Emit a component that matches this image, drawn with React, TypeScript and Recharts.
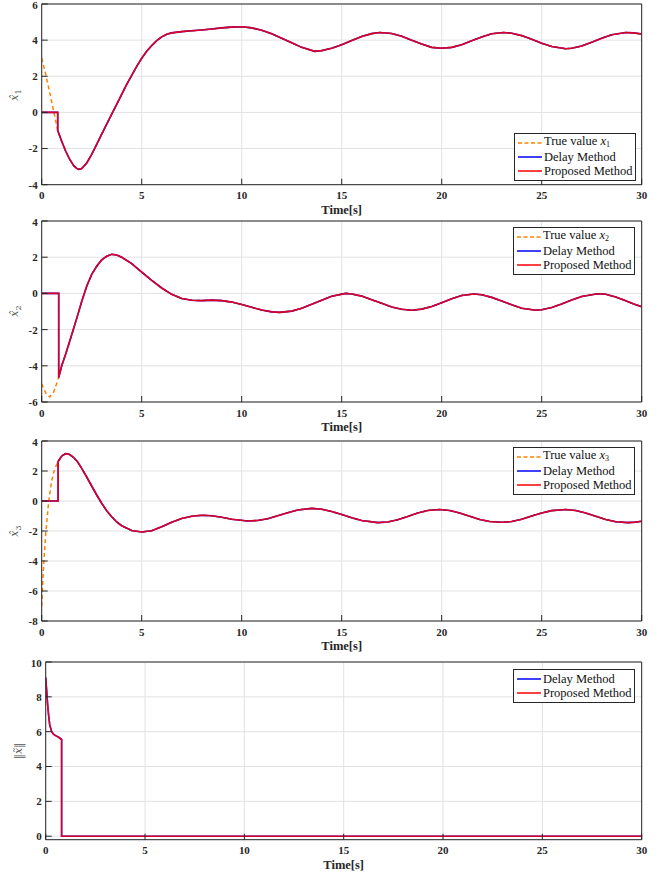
import React from 'react';
import { LineChart, Line, XAxis, YAxis, CartesianGrid, Legend } from 'recharts';

// ---------- tick labels ----------
const TIME_TICKS = [0, 5, 10, 15, 20, 25, 30];
const Y1_TICKS = [-4, -2, 0, 2, 4, 6];
const Y2_TICKS = [-6, -4, -2, 0, 2, 4];
const Y3_TICKS = [-8, -6, -4, -2, 0, 2, 4];
const Y4_TICKS = [0, 2, 4, 6, 8, 10];

// ---------- panel 1 : x1 ----------
const T1 = [0, 0.2, 0.4, 0.6, 0.8, 0.8, 1.0, 1.2, 1.4, 1.6, 1.75, 1.85, 2.0, 2.25, 2.5, 2.75, 3.0, 3.25, 3.5, 3.75, 4.0, 4.25, 4.5, 4.75, 5.0, 5.25, 5.5, 5.75, 6.0, 6.25, 6.5, 7.0, 7.5, 8.0, 8.5, 9.0, 9.5, 10.0, 10.5, 11.0, 11.5, 12.0, 12.5, 13.0, 13.65, 14.0, 14.5, 15.0, 15.5, 16.0, 16.5, 16.9, 17.5, 18.0, 18.5, 19.0, 19.5, 20.0, 20.5, 21.0, 21.5, 22.0, 22.5, 23.1, 23.5, 24.0, 24.5, 25.0, 25.5, 26.2, 26.5, 27.0, 27.5, 28.0, 28.5, 29.2, 29.6, 30.0];
const EST1 = [0, 0, 0, 0, 0, -1.0, -1.6, -2.15, -2.6, -2.95, -3.1, -3.15, -3.1, -2.8, -2.32, -1.77, -1.2, -0.65, -0.1, 0.45, 1.0, 1.55, 2.05, 2.55, 3.0, 3.38, 3.7, 3.97, 4.18, 4.32, 4.4, 4.47, 4.52, 4.56, 4.62, 4.68, 4.72, 4.74, 4.68, 4.55, 4.35, 4.1, 3.85, 3.6, 3.38, 3.42, 3.55, 3.75, 3.98, 4.2, 4.36, 4.42, 4.37, 4.22, 4.0, 3.78, 3.6, 3.55, 3.6, 3.75, 3.97, 4.18, 4.35, 4.42, 4.38, 4.25, 4.05, 3.83, 3.65, 3.52, 3.55, 3.68, 3.88, 4.1, 4.3, 4.42, 4.4, 4.34];
const TRUE1_EARLY = [3.0, 2.1, 1.1, 0.05, -1.0];

// ---------- panel 2 : x2 ----------
const T2 = [0, 0.2, 0.4, 0.6, 0.85, 0.85, 1.0, 1.2, 1.4, 1.6, 1.8, 2.0, 2.25, 2.5, 2.75, 3.0, 3.25, 3.5, 3.75, 4.0, 4.5, 5.0, 5.5, 6.0, 6.5, 7.0, 7.5, 8.0, 8.5, 9.0, 9.5, 10.0, 10.5, 11.0, 11.5, 11.9, 12.5, 13.0, 13.5, 14.0, 14.5, 15.2, 15.5, 16.0, 16.5, 17.0, 17.5, 18.0, 18.5, 19.0, 19.5, 20.0, 20.5, 21.0, 21.6, 22.0, 22.5, 23.0, 23.5, 24.0, 24.7, 25.0, 25.5, 26.0, 26.5, 27.0, 27.8, 28.2, 28.7, 29.2, 29.6, 30.0];
const EST2 = [0, 0, 0, 0, 0, -4.65, -4.0, -3.35, -2.65, -1.93, -1.2, -0.45, 0.4, 1.05, 1.5, 1.85, 2.05, 2.16, 2.12, 2.0, 1.65, 1.18, 0.72, 0.3, -0.05, -0.28, -0.38, -0.4, -0.37, -0.4, -0.48, -0.61, -0.77, -0.92, -1.02, -1.05, -0.98, -0.82, -0.6, -0.38, -0.16, 0.0, -0.03, -0.15, -0.35, -0.55, -0.75, -0.88, -0.93, -0.87, -0.72, -0.52, -0.3, -0.12, -0.03, -0.07, -0.22, -0.42, -0.63, -0.82, -0.93, -0.9, -0.78, -0.58, -0.36, -0.17, -0.02, -0.05, -0.2, -0.4, -0.58, -0.74];
const TRUE2_EARLY = [-5.0, -5.5, -5.72, -5.45, -4.65];

// ---------- panel 3 : x3 ----------
const T3 = [0, 0.05, 0.1, 0.2, 0.35, 0.5, 0.65, 0.82, 0.82, 1.0, 1.2, 1.4, 1.6, 1.8, 2.0, 2.25, 2.5, 2.75, 3.0, 3.25, 3.5, 3.75, 4.0, 4.5, 5.0, 5.5, 6.0, 6.5, 7.0, 7.5, 8.0, 8.5, 9.0, 9.5, 10.3, 10.8, 11.3, 11.8, 12.3, 12.8, 13.5, 14.0, 14.5, 15.0, 15.5, 16.0, 16.8, 17.3, 17.8, 18.3, 18.8, 19.3, 19.9, 20.4, 20.9, 21.4, 21.9, 22.4, 23.0, 23.5, 24.0, 24.5, 25.0, 25.5, 26.2, 26.7, 27.2, 27.7, 28.2, 28.7, 29.3, 29.7, 30.0];
const EST3 = [0, 0, 0, 0, 0, 0, 0, 0, 2.63, 3.0, 3.16, 3.1, 2.9, 2.6, 2.18, 1.6, 1.0, 0.4, -0.15, -0.65, -1.05, -1.4, -1.65, -1.97, -2.07, -1.98, -1.72, -1.42, -1.17, -1.02, -0.95, -0.98, -1.08, -1.22, -1.33, -1.3, -1.18, -0.98, -0.78, -0.6, -0.49, -0.55, -0.7, -0.9, -1.12, -1.3, -1.44, -1.4, -1.25, -1.03, -0.8, -0.63, -0.57, -0.63, -0.8, -1.02, -1.23, -1.37, -1.42, -1.37, -1.22, -1.0, -0.8, -0.64, -0.57, -0.63, -0.8, -1.02, -1.23, -1.38, -1.44, -1.41, -1.35];
const TRUE3_EARLY = [-7.0, -5.5, -4.2, -2.2, 0.0, 1.35, 2.15, 2.63];

// ---------- panel 4 : error norm ----------
const T4 = [0, 0.05, 0.1, 0.15, 0.2, 0.3, 0.4, 0.5, 0.65, 0.8, 0.8, 5, 10, 15, 20, 25, 30];
const EST4 = [9.1, 8.3, 7.5, 6.9, 6.4, 6.0, 5.85, 5.77, 5.68, 5.55, 0, 0, 0, 0, 0, 0, 0];

// ---------- styling ----------
const COLORS = { truth: '#ff8000', delay: '#0000ff', proposed: '#ff0000' };
const AXIS = '#262626';
const GRID = '#e2e2e2';
const PLOT_RIGHT = 641.7;
const W = 670;

function buildRows(times: number[], est: number[], trueEarly?: number[]) {
  return times.map((t, i) => {
    const row: any = { t, delay: est[i], proposed: est[i] };
    if (trueEarly) row.truth = i < trueEarly.length ? trueEarly[i] : est[i];
    return row;
  });
}

const tickStyle = { fontFamily: 'Liberation Serif', fontWeight: 'bold', fontSize: 11, fill: AXIS };

const LegendBox = ({ payload, sub, width }: any) => {
  const order = ['truth', 'delay', 'proposed'];
  const items = order
    .map((k) => (payload || []).find((p: any) => p.dataKey === k))
    .filter(Boolean);
  return (
    <div
      style={{
        border: '1px solid ' + AXIS,
        background: '#fff',
        width,
        boxSizing: 'border-box',
        padding: '2px 2px 2px 0px',
        fontFamily: 'Liberation Serif',
        fontSize: 12.5,
        color: '#111',
        lineHeight: '14px',
      }}
    >
      {items.map((e: any) => (
        <div key={e.dataKey} style={{ display: 'flex', alignItems: 'center', height: 14, whiteSpace: 'nowrap' }}>
          <svg width={28} height={14} style={{ flex: 'none' }}>
            <line
              x1={3}
              x2={27}
              y1={7}
              y2={7}
              stroke={e.color}
              strokeWidth={1.5}
              strokeDasharray={e.dataKey === 'truth' ? '4 2.5' : undefined}
            />
          </svg>
          <span style={{ marginLeft: 1 }}>
            {e.dataKey === 'truth' ? (
              <>
                True value <i>x</i>
                <sub style={{ fontSize: 8, verticalAlign: '-2px' }}>{sub}</sub>
              </>
            ) : (
              e.value
            )}
          </span>
        </div>
      ))}
    </div>
  );
};

type PanelProps = {
  rows: any[];
  plotTop: number;
  plotBottom: number;
  plotLeft: number;
  domain: [number, number];
  yTicks: number[];
  legend: { left: number; top: number; height: number };
  sub?: string;
  withTruth: boolean;
};

const Panel = ({ rows, plotTop, plotBottom, plotLeft, domain, yTicks, legend, sub, withTruth }: PanelProps) => {
  const containerTop = plotTop - 5;
  const xAxisH = 32;
  const height = plotBottom - plotTop + 5 + xAxisH + 4;
  const yAxisW = 30;
  return (
    <div style={{ position: 'absolute', left: 0, top: containerTop, width: W, height }}>
      <LineChart
        width={W}
        height={height}
        data={rows}
        margin={{ top: 4, bottom: 4, left: plotLeft - yAxisW, right: W - PLOT_RIGHT - 1 }}
      >
        <CartesianGrid stroke={GRID} strokeWidth={1} />
        <XAxis
          type="number"
          dataKey="t"
          domain={[0, 30]}
          ticks={TIME_TICKS}
          allowDataOverflow
          height={xAxisH}
          tickSize={-6}
          tickMargin={13}
          tick={tickStyle}
          stroke={AXIS}
          tickLine={{ stroke: AXIS }}
          axisLine={{ stroke: AXIS }}
          label={{
            value: 'Time[s]',
            position: 'insideBottom',
            offset: 3,
            style: { fontFamily: 'Liberation Serif', fontWeight: 'bold', fontSize: 12.5, fill: AXIS },
          }}
        />
        <XAxis
          xAxisId="top"
          orientation="top"
          type="number"
          domain={[0, 30]}
          ticks={TIME_TICKS}
          allowDataOverflow
          height={1}
          tickSize={-6}
          tick={false}
          stroke={AXIS}
          tickLine={{ stroke: AXIS }}
          axisLine={{ stroke: AXIS }}
        />
        <YAxis
          type="number"
          domain={domain}
          ticks={yTicks}
          allowDataOverflow
          width={yAxisW}
          tickSize={-6}
          tickMargin={10}
          tick={tickStyle}
          stroke={AXIS}
          tickLine={{ stroke: AXIS }}
          axisLine={{ stroke: AXIS }}
        />
        <YAxis
          yAxisId="right"
          orientation="right"
          type="number"
          domain={domain}
          ticks={yTicks}
          allowDataOverflow
          width={1}
          tickSize={-6}
          tick={false}
          stroke={AXIS}
          tickLine={{ stroke: AXIS }}
          axisLine={{ stroke: AXIS }}
        />
        {withTruth && (
          <Line
            type="linear"
            dataKey="truth"
            name="True value x"
            stroke={COLORS.truth}
            strokeWidth={1.5}
            strokeDasharray="4 3"
            dot={false}
            isAnimationActive={false}
          />
        )}
        <Line
          type="linear"
          dataKey="delay"
          name="Delay Method"
          stroke={COLORS.delay}
          strokeWidth={1.6}
          dot={false}
          isAnimationActive={false}
        />
        <Line
          type="linear"
          dataKey="proposed"
          name="Proposed Method"
          stroke={COLORS.proposed}
          strokeOpacity={0.85}
          strokeWidth={1.6}
          dot={false}
          isAnimationActive={false}
        />
        <Legend
          layout="vertical"
          align="center"
          verticalAlign="middle"
          wrapperStyle={{ left: legend.left, top: legend.top - containerTop, width: 122, height: legend.height }}
          content={(p: any) => <LegendBox payload={p.payload} sub={sub} width={122} />}
        />
      </LineChart>
    </div>
  );
};

const YLabels = () => {
  const common = { fontFamily: 'DejaVu Serif', fontSize: 11, fill: '#555', textAnchor: 'middle' as const };
  const lab = (x: number, y: number, sub: string) => (
    <text transform={`translate(${x},${y}) rotate(-90)`} {...common}>
      <tspan fontStyle="italic">x̂</tspan>
      <tspan fontSize={8} dy={3}>{sub}</tspan>
    </text>
  );
  return (
    <svg width={W} height={879} style={{ position: 'absolute', left: 0, top: 0, pointerEvents: 'none' }}>
      {lab(18, 95, '1')}
      {lab(18, 311, '2')}
      {lab(18, 531, '3')}
      <text transform="translate(22,751) rotate(-90)" {...common}>
        <tspan>‖</tspan>
        <tspan fontStyle="italic">x̃</tspan>
        <tspan>‖</tspan>
      </text>
    </svg>
  );
};

export default function App() {
  return (
    <div style={{ position: 'absolute', left: 0, top: 0, width: W, height: 879, background: '#fff', overflow: 'hidden' }}>
      <Panel
        rows={buildRows(T1, EST1, TRUE1_EARLY)}
        plotTop={4.3}
        plotBottom={185}
        plotLeft={41.7}
        domain={[-4, 6]}
        yTicks={Y1_TICKS}
        legend={{ left: 514, top: 133, height: 46 }}
        sub="1"
        withTruth
      />
      <Panel
        rows={buildRows(T2, EST2, TRUE2_EARLY)}
        plotTop={220.7}
        plotBottom={401.7}
        plotLeft={41.7}
        domain={[-6, 4]}
        yTicks={Y2_TICKS}
        legend={{ left: 513, top: 227, height: 47 }}
        sub="2"
        withTruth
      />
      <Panel
        rows={buildRows(T3, EST3, TRUE3_EARLY)}
        plotTop={440.7}
        plotBottom={620.7}
        plotLeft={41.7}
        domain={[-8, 4]}
        yTicks={Y3_TICKS}
        legend={{ left: 513, top: 447, height: 46 }}
        sub="3"
        withTruth
      />
      <Panel
        rows={buildRows(T4, EST4)}
        plotTop={662.3}
        plotBottom={840}
        plotLeft={45.7}
        domain={[-0.2, 10]}
        yTicks={Y4_TICKS}
        legend={{ left: 513, top: 669, height: 31 }}
        withTruth={false}
      />
      <YLabels />
    </div>
  );
}
